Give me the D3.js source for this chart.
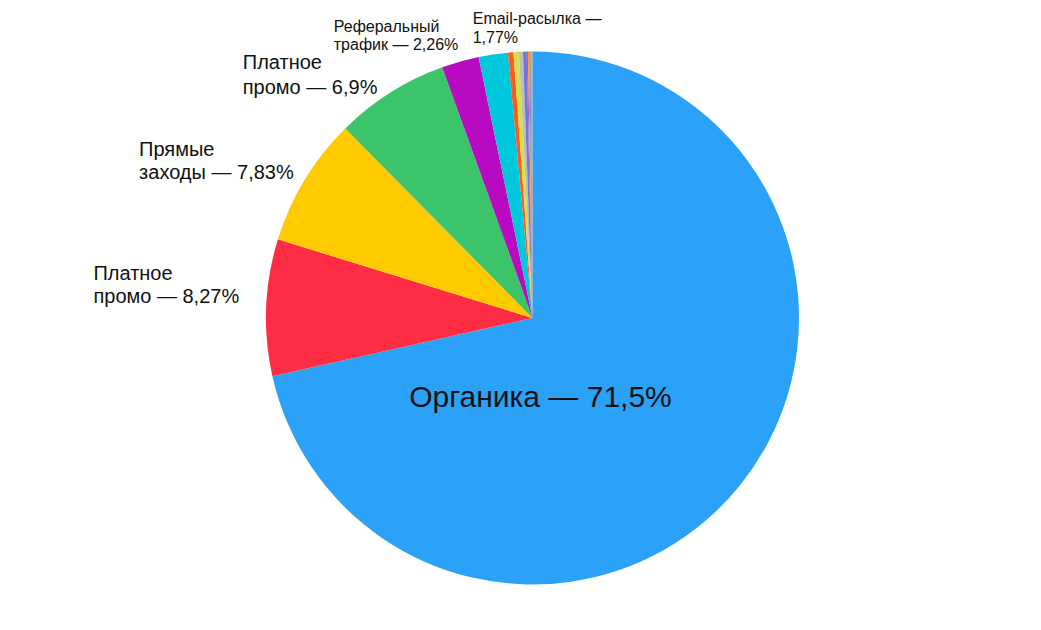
<!DOCTYPE html>
<html>
<head>
<meta charset="utf-8">
<script src="https://cdn.jsdelivr.net/npm/d3@7"></script>
<style>
  body { margin: 0; background: #fff; }
  svg { display: block; font-family: "Liberation Sans", Arial, Helvetica, sans-serif; }
</style>
</head>
<body>
<svg id="chart"></svg>
<script>
// traffic sources, % (clockwise from 12 o'clock)
const categories = [
  "Органика", "Платное промо", "Прямые заходы", "Платное промо",
  "Реферальный трафик", "Email-расылка",
  "Прочее 1", "Прочее 2", "Прочее 3", "Прочее 4", "Прочее 5",
  "Прочее 6", "Прочее 7", "Прочее 8", "Прочее 9"
];
const values = [71.5, 8.27, 7.83, 6.9, 2.26, 1.77, 0.33, 0.33, 0.24, 0.22, 0.08, 0.08, 0.07, 0.06, 0.06];
const colors = [
  "#2ba1f7", "#ff2d43", "#ffcb00", "#3cc46a", "#b70ac1", "#00c8dc",
  "#ff5a1f", "#d3e14a", "#bdbdbd", "#7474d6", "#9a5fc0", "#ff9800",
  "#4a8fe0", "#e8736f", "#9e9e9e"
];
// label text lines, null = no label
const labelLines = [
  ["Органика — 71,5%"],
  ["Платное", "промо — 8,27%"],
  ["Прямые", "заходы — 7,83%"],
  ["Платное", "промо — 6,9%"],
  ["Реферальный", "трафик — 2,26%"],
  ["Email-расылка —", "1,77%"]
];

// label layout: font size, alignment, nudge from anchor
const labelLayout = [
  { size: 30, lh: 34, align: "middle", r: 0.5, dx: -96, dy: 6 },
  { size: 20, lh: 23, align: "right", r: 1, dx: -27, dy: -4 },
  { size: 20, lh: 23, align: "right", r: 1, dx: -11, dy: -1 },
  { size: 20, lh: 25, align: "right", r: 1, dx: -13, dy: 1 },
  { size: 16, lh: 18.5, align: "right", r: 1, dx: -2, dy: -11 },
  { size: 16, lh: 19.5, align: "left", r: 1, dx: -20.5, dy: -11 }
];

const width = 1041, height = 630;
const cx = 532.5, cy = 318, radius = 266.5;

const svg = d3.select("#chart").attr("width", width).attr("height", height);
const g = svg.append("g").attr("transform", "translate(" + cx + "," + cy + ")");

const pie = d3.pie().sort(null).value((d) => d);
const arcs = pie(values);
const arc = d3.arc().innerRadius(0).outerRadius(radius);

// slices
g.selectAll("path")
  .data(arcs)
  .join("path")
  .attr("d", arc)
  .attr("fill", (d, i) => colors[i]);

// labels
arcs.forEach((d, i) => {
  const lines = labelLines[i];
  if (!lines) return;
  const lay = labelLayout[i];
  const a = (d.startAngle + d.endAngle) / 2;
  const rr = radius * lay.r;
  const ax = rr * Math.sin(a) + lay.dx;
  const ay = -rr * Math.cos(a) + lay.dy;

  const t = g.append("text")
    .attr("font-size", lay.size)
    .attr("fill", "#111");
  lines.forEach((line) => {
    t.append("tspan").text(line);
  });
  const tspans = t.selectAll("tspan").nodes();
  const w = d3.max(tspans, (n) => n.getComputedTextLength());
  const n = lines.length;
  let left;
  if (lay.align === "right") left = ax - w;
  else if (lay.align === "left") left = ax;
  else left = ax - w / 2;
  tspans.forEach((node, k) => {
    d3.select(node)
      .attr("x", left)
      .attr("y", ay - (n - 1 - k) * lay.lh);
  });
});
</script>
</body>
</html>
